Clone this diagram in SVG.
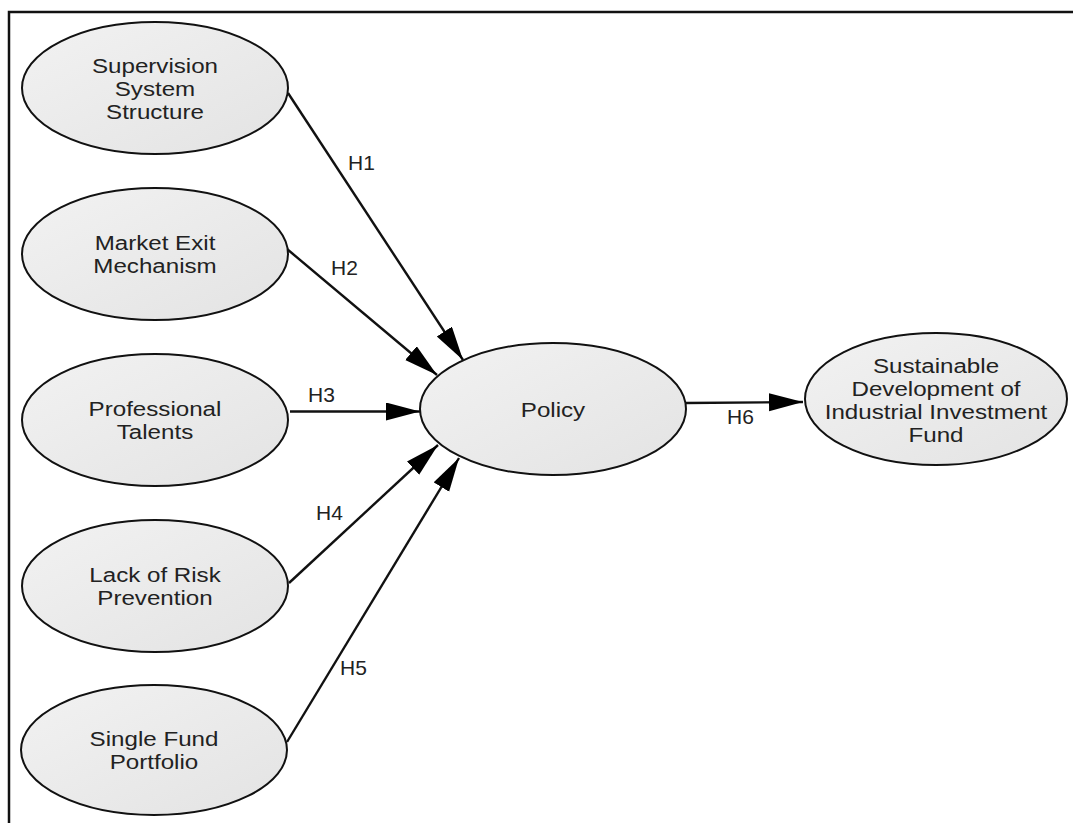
<svg xmlns="http://www.w3.org/2000/svg" width="1073" height="823" viewBox="0 0 1073 823">
<style>
.nd{fill:url(#g);stroke:#111;stroke-width:2}
.t{font-family:"Liberation Sans",Arial,sans-serif;font-size:21px;fill:#222;text-anchor:middle}
.lb{font-family:"Liberation Sans",Arial,sans-serif;font-size:21px;fill:#222}
.c{stroke:#111;stroke-width:2.4;fill:none;marker-end:url(#ah)}
</style>
<defs>
<linearGradient id="g" x1="0" y1="0" x2="1" y2="1">
<stop offset="0" stop-color="#f2f2f2"/>
<stop offset="1" stop-color="#e3e3e3"/>
</linearGradient>
<marker id="ah" markerUnits="userSpaceOnUse" markerWidth="36" markerHeight="20" refX="34" refY="9" orient="auto">
<path d="M0,0 L34,9 L0,18 Z" fill="#000"/>
</marker>
</defs>
<rect width="1073" height="823" fill="#fff"/>
<rect x="9" y="12" width="1100" height="900" fill="none" stroke="#111" stroke-width="2.5"/>
<g id="connectors">
<line class="c" x1="288" y1="93" x2="463" y2="360"/>
<line class="c" x1="287" y1="249" x2="437" y2="375"/>
<line class="c" x1="290" y1="411.5" x2="420" y2="411.5"/>
<line class="c" x1="289" y1="583" x2="438" y2="445"/>
<line class="c" x1="287" y1="742" x2="459" y2="458"/>
<line class="c" x1="686" y1="403" x2="803" y2="402"/>
<text class="lb" x="348" y="170">H1</text>
<text class="lb" x="331" y="275">H2</text>
<text class="lb" x="308" y="402">H3</text>
<text class="lb" x="316" y="520">H4</text>
<text class="lb" x="340" y="675">H5</text>
<text class="lb" x="727" y="424">H6</text>
</g>
<g id="n1">
<ellipse class="nd" cx="155" cy="88" rx="133" ry="66"/>
<text class="t" transform="translate(155,0) scale(1.15,1)" x="0" y="73">Supervision</text>
<text class="t" transform="translate(155,0) scale(1.15,1)" x="0" y="96">System</text>
<text class="t" transform="translate(155,0) scale(1.15,1)" x="0" y="119">Structure</text>
</g>
<g id="n2">
<ellipse class="nd" cx="155" cy="254" rx="133" ry="66"/>
<text class="t" transform="translate(155,0) scale(1.15,1)" x="0" y="250">Market Exit</text>
<text class="t" transform="translate(155,0) scale(1.15,1)" x="0" y="273">Mechanism</text>
</g>
<g id="n3">
<ellipse class="nd" cx="155" cy="420" rx="133" ry="66"/>
<text class="t" transform="translate(155,0) scale(1.15,1)" x="0" y="416">Professional</text>
<text class="t" transform="translate(155,0) scale(1.15,1)" x="0" y="439">Talents</text>
</g>
<g id="n4">
<ellipse class="nd" cx="155" cy="586" rx="133" ry="66"/>
<text class="t" transform="translate(155,0) scale(1.15,1)" x="0" y="582">Lack of Risk</text>
<text class="t" transform="translate(155,0) scale(1.15,1)" x="0" y="605">Prevention</text>
</g>
<g id="n5">
<ellipse class="nd" cx="154" cy="750" rx="133" ry="65"/>
<text class="t" transform="translate(154,0) scale(1.15,1)" x="0" y="746">Single Fund</text>
<text class="t" transform="translate(154,0) scale(1.15,1)" x="0" y="769">Portfolio</text>
</g>
<g id="policy">
<ellipse class="nd" cx="553" cy="409" rx="133" ry="66"/>
<text class="t" transform="translate(553,0) scale(1.15,1)" x="0" y="417">Policy</text>
</g>
<g id="sd">
<ellipse class="nd" cx="936" cy="399" rx="131" ry="66"/>
<text class="t" transform="translate(936,0) scale(1.15,1)" x="0" y="373">Sustainable</text>
<text class="t" transform="translate(936,0) scale(1.15,1)" x="0" y="396">Development of</text>
<text class="t" transform="translate(936,0) scale(1.15,1)" x="0" y="419">Industrial Investment</text>
<text class="t" transform="translate(936,0) scale(1.15,1)" x="0" y="442">Fund</text>
</g>
</svg>
